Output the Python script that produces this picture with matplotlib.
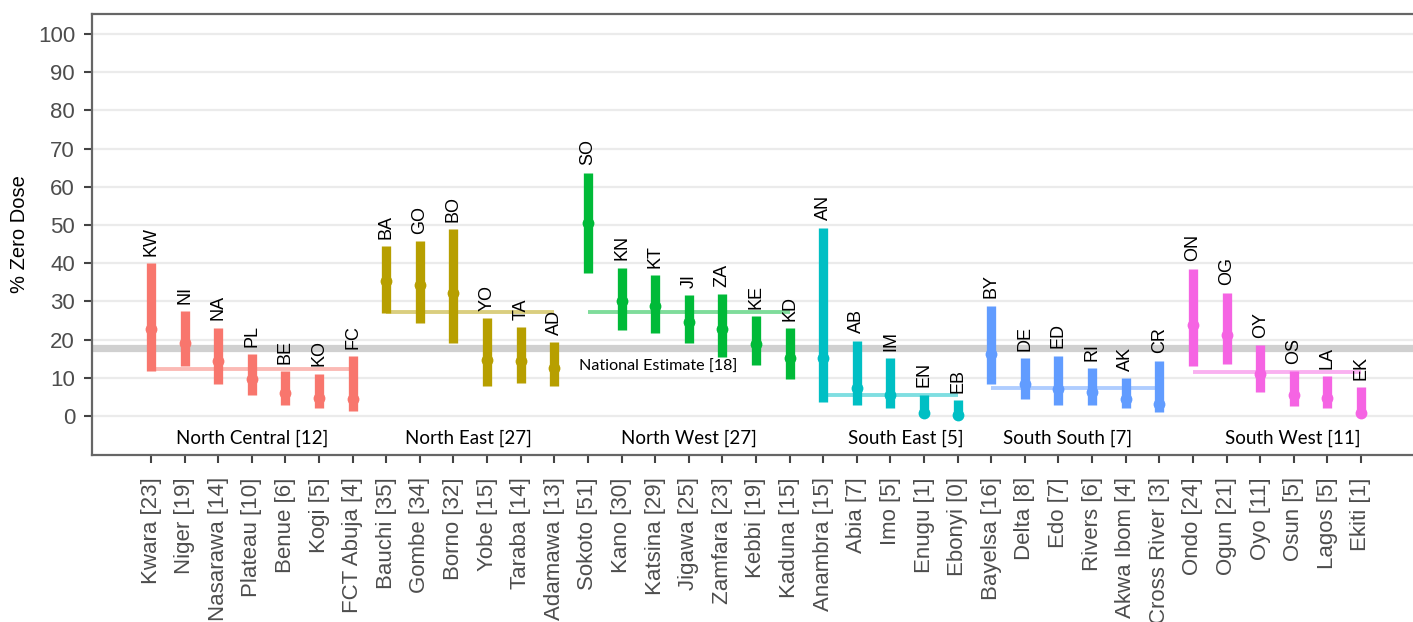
import matplotlib
matplotlib.use("Agg")
import matplotlib.pyplot as plt
import numpy as np

# ---------- data ----------
states = ["Kwara", "Niger", "Nasarawa", "Plateau", "Benue", "Kogi", "FCT Abuja",
          "Bauchi", "Gombe", "Borno", "Yobe", "Taraba", "Adamawa",
          "Sokoto", "Kano", "Katsina", "Jigawa", "Zamfara", "Kebbi", "Kaduna",
          "Anambra", "Abia", "Imo", "Enugu", "Ebonyi",
          "Bayelsa", "Delta", "Edo", "Rivers", "Akwa Ibom", "Cross River",
          "Ondo", "Ogun", "Oyo", "Osun", "Lagos", "Ekiti"]
codes = ["KW", "NI", "NA", "PL", "BE", "KO", "FC",
         "BA", "GO", "BO", "YO", "TA", "AD",
         "SO", "KN", "KT", "JI", "ZA", "KE", "KD",
         "AN", "AB", "IM", "EN", "EB",
         "BY", "DE", "ED", "RI", "AK", "CR",
         "ON", "OG", "OY", "OS", "LA", "EK"]
estimate = [22.8, 19.2, 14.4, 9.8, 6.1, 4.8, 4.4,
            35.3, 34.3, 32.3, 14.7, 14.4, 12.6,
            50.6, 30.2, 28.9, 24.7, 22.7, 18.8, 15.1,
            15.2, 7.4, 5.4, 0.7, 0.2,
            16.2, 8.3, 7.0, 6.2, 4.4, 3.2,
            23.7, 21.3, 11.0, 5.4, 4.7, 0.8]
lower = [11.7, 13.0, 8.5, 5.6, 3.0, 2.1, 1.2,
         26.9, 24.4, 19.0, 7.9, 8.6, 7.9,
         37.5, 22.5, 21.6, 19.0, 15.5, 13.3, 9.8,
         3.7, 3.0, 2.2, 0.0, 0.0,
         8.4, 4.5, 2.8, 3.0, 2.1, 1.0,
         13.2, 13.7, 6.3, 2.5, 2.2, 0.2]
upper = [40.1, 27.4, 23.1, 16.1, 11.8, 11.1, 15.7,
         44.5, 45.8, 48.9, 25.6, 23.2, 19.3,
         63.7, 38.8, 36.9, 31.7, 31.9, 26.2, 23.0,
         49.3, 19.7, 15.2, 5.6, 4.1,
         28.9, 15.2, 15.8, 12.6, 9.9, 14.5,
         38.6, 32.3, 18.6, 11.7, 10.4, 7.6]
region_of = [0] * 7 + [1] * 6 + [2] * 7 + [3] * 5 + [4] * 6 + [5] * 6

regions = ["North Central", "North East", "North West",
           "South East", "South South", "South West"]
region_est = [12.4, 27.3, 27.3, 5.4, 7.4, 11.4]
region_colors = ["#F8766D", "#B79F00", "#00BA38", "#00BFC4", "#619CFF", "#F564E3"]
region_label_x = [4.0, 10.45, 17.0, 23.45, 28.27, 34.96]
national = 17.7

# ---------- figure ----------
W, H = 1413, 622
fig = plt.figure(figsize=(W / 100, H / 100), dpi=100)
left_px, top_px, bottom_px = 91.7, 14, 455
ax = fig.add_axes([left_px / W, 1 - bottom_px / H, 1 - left_px / W, (bottom_px - top_px) / H])

x = np.arange(1, len(states) + 1)
step = 33.61
ax.set_xlim(1 - (151 - left_px) / step, 1 + (W - 151) / step)
ax.set_ylim(-10.2, 105.2)

sans = ["Liberation Sans", "DejaVu Sans"]
lato = ["Lato", "DejaVu Sans"]

# national band
ax.axhline(national, color="#D0D0D0", lw=5.2, zorder=1)
ax.text(13.73, 12.8, f"National Estimate [{national:.0f}]", family=lato,
        fontsize=11.6, color="black", ha="left", va="center", zorder=5)

# regional lines + labels
for r, name in enumerate(regions):
    idx = [i for i, g in enumerate(region_of) if g == r]
    ax.hlines(region_est[r], x[idx[0]], x[idx[-1]], color=region_colors[r],
              alpha=0.5, lw=2.8, zorder=2)
    ax.text(region_label_x[r], -5.8, f"{name} [{region_est[r]:.0f}]", family=lato,
            fontsize=13.5, color="black", ha="center", va="center")

# per-state intervals, points and codes
for i in range(len(states)):
    c = region_colors[region_of[i]]
    ax.vlines(x[i], lower[i], upper[i], color=c, lw=6.7, zorder=3)
    ax.plot(x[i], estimate[i], "o", ms=8.5, color=c, mec="none", zorder=4)
    ax.text(x[i], upper[i] + 1.9, codes[i], rotation=90, family=sans,
            fontsize=13, ha="center", va="bottom", color="black")

# axes styling
ax.set_yticks(np.arange(0, 101, 10))
ax.set_xticks(x)
ax.set_xticklabels([f"{s} [{e:.0f}]" for s, e in zip(states, estimate)],
                   rotation=90, family=sans, fontsize=16, color="#4D4D4D")
for lab in ax.get_yticklabels():
    lab.set_family(sans)
ax.tick_params(axis="y", labelsize=16, labelcolor="#4D4D4D", length=6,
               width=1.5, color="#444444", pad=6)
ax.tick_params(axis="x", length=6, width=1.5, color="#444444", pad=10)
ax.yaxis.grid(True, color="#EBEBEB", lw=1.6)
ax.set_axisbelow(True)
for side in ("left", "top", "bottom"):
    ax.spines[side].set_color("#666666")
    ax.spines[side].set_linewidth(1.6)
ax.spines["right"].set_visible(False)
ax.set_ylabel("% Zero Dose", family=sans, fontsize=14.5, color="black", labelpad=6)

fig.savefig("out.png", dpi=100)
